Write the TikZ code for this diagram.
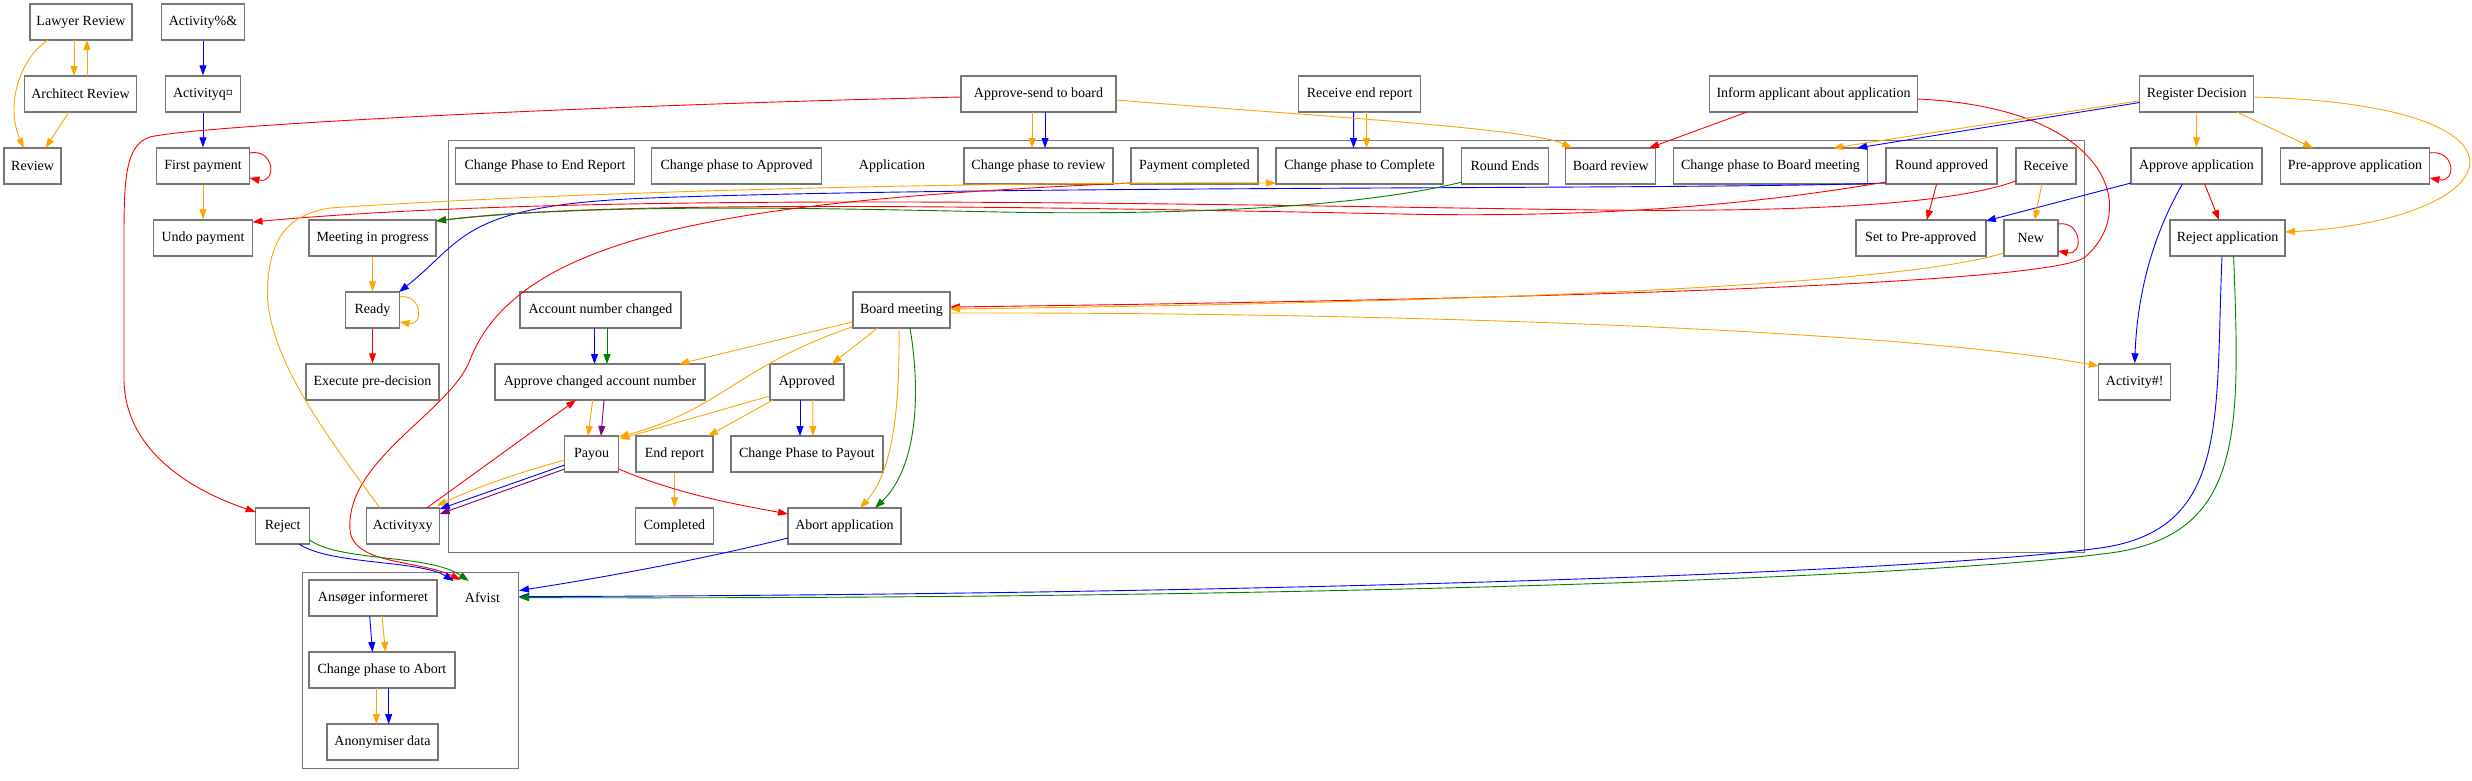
\documentclass[tikz,border=0pt]{standalone}
\usepackage{fontspec}
\setmainfont{Liberation Serif}
\usetikzlibrary{arrows.meta}
\definecolor{gvorange}{RGB}{255,165,0}
\definecolor{gvblue}{RGB}{0,0,255}
\definecolor{gvgreen}{RGB}{0,128,0}
\definecolor{gvred}{RGB}{255,0,0}
\definecolor{gvpurple}{RGB}{128,0,128}
\definecolor{bgray}{RGB}{118,118,118}
\begin{document}
\begin{tikzpicture}[x=1pt,y=-1pt,
  box/.style={draw=bgray, line width=1.4pt, minimum height=36pt, inner xsep=6pt, inner ysep=0pt, font=\fontsize{14}{16}\selectfont},
  clus/.style={draw=bgray, line width=1.4pt, inner sep=0pt},
  lbl/.style={font=\fontsize{14}{16}\selectfont, inner sep=0pt},
  edge/.style={line width=0.9pt, -{Triangle[length=10pt,width=7pt]}},
  orE/.style={edge, draw=gvorange},
  blE/.style={edge, draw=gvblue},
  grE/.style={edge, draw=gvgreen},
  rdE/.style={edge, draw=gvred},
  puE/.style={edge, draw=gvpurple}]
\useasboundingbox (0,0) rectangle (2472,780);
% clusters
\node[clus, minimum width=1635.8, minimum height=412, anchor=north west] (capp) at (447.7,140) {};
\node[clus, minimum width=215.9, minimum height=195.7, anchor=north west] (cafv) at (301.7,572) {};
% nodes outside
\node[box, minimum width=102] (lr) at (81,22) {Lawyer Review};
\node[box, minimum width=112] (ar) at (80.5,94) {Architect Review};
\node[box, minimum width=57] (rv) at (32.6,166) {Review};
\node[box, minimum width=83] (a1) at (203,22) {Activity\%\&};
\node[box, minimum width=75] (a2) at (203,94) {Activityq¤};
\node[box, minimum width=93] (fp) at (203,166) {First payment};
\node[box, minimum width=99] (up) at (203,238) {Undo payment};
\node[box, minimum width=127] (mip) at (372.5,238) {Meeting in progress};
\node[box, minimum width=54] (rdy) at (372.5,310) {Ready};
\node[box, minimum width=133] (epd) at (372.5,382) {Execute pre-decision};
\node[box, minimum width=54] (rej) at (282.7,526) {Reject};
\node[box, minimum width=73] (axy) at (402.7,526) {Activityxy};
\node[box, minimum width=155] (asb) at (1038.5,94) {Approve-send to board};
\node[box, minimum width=122] (rer) at (1359.6,94) {Receive end report};
\node[box, minimum width=208] (ia) at (1813.5,94) {Inform applicant about application};
\node[box, minimum width=114] (rd) at (2196.7,94) {Register Decision};
\node[box, minimum width=131] (apa) at (2196.4,166) {Approve application};
\node[box, minimum width=149] (ppa) at (2355,166) {Pre-approve application};
\node[box, minimum width=115] (rja) at (2227.6,238) {Reject application};
\node[box, minimum width=72] (act) at (2134.7,382) {Activity\#!};
% Application cluster
\node[box, minimum width=179] (cper) at (545,166) {Change Phase to End Report};
\node[box, minimum width=170] (cpa) at (736.6,166) {Change phase to Approved};
\node[lbl] (appl) at (892,166) {Application};
\node[box, minimum width=149] (cpr) at (1038.5,166) {Change phase to review};
\node[box, minimum width=127] (pc) at (1194.5,166) {Payment completed};
\node[box, minimum width=167] (cpc) at (1359.5,166) {Change phase to Complete};
\node[box, minimum width=87] (re) at (1505,166) {Round Ends};
\node[box, minimum width=90] (br) at (1610.7,166) {Board review};
\node[box, minimum width=194] (cpbm) at (1770.5,166) {Change phase to Board meeting};
\node[box, minimum width=111] (ra) at (1941.6,166) {Round approved};
\node[box, minimum width=60] (rcv) at (2045.8,166) {Receive};
\node[box, minimum width=130] (spa) at (1920.8,238) {Set to Pre-approved};
\node[box, minimum width=54] (new) at (2030.8,238) {New};
\node[box, minimum width=161] (anc) at (600.5,310) {Account number changed};
\node[box, minimum width=97] (bm) at (901.5,310) {Board meeting};
\node[box, minimum width=210] (aca) at (600,382) {Approve changed account number};
\node[box, minimum width=74] (apd) at (806.8,382) {Approved};
\node[box, minimum width=54] (pay) at (591.7,454) {Payou};
\node[box, minimum width=77] (er) at (674.5,454) {End report};
\node[box, minimum width=152] (cpp) at (807,454) {Change Phase to Payout};
\node[box, minimum width=78] (cmp) at (674.5,526) {Completed};
\node[box, minimum width=113] (aa) at (844.5,526) {Abort application};
% Afvist cluster
\node[box, minimum width=128] (ai) at (373,598) {Ansøger informeret};
\node[lbl] (afv) at (482.4,598) {Afvist};
\node[box, minimum width=146] (cpab) at (382,670) {Change phase to Abort};
\node[box, minimum width=111] (ad) at (382.5,742) {Anonymiser data};
% ---- edges: top-left
\draw[orE] ([shift={(-7,18)}]lr.center) -- ([shift={(-6.5,-18)}]ar.center);
\draw[orE] ([shift={(6.5,-18)}]ar.center) -- ([shift={(6,18)}]lr.center);
\draw[orE] ([shift={(-33,18)}]lr.center) .. controls (20,58) and (5,105) .. ([shift={(-8.9,-18)}]rv.center);
\draw[orE] ([shift={(-11.5,18)}]ar.center) -- ([shift={(12.9,-18)}]rv.center);
\draw[blE] (a1.south) -- (a2.north);
\draw[blE] (a2.south) -- (fp.north);
\draw[rdE] ([shift={(46.5,-13)}]fp.center) .. controls (275,148) and (277,184) .. ([shift={(46.5,12)}]fp.center);
\draw[orE] (fp.south) -- (up.north);
\draw[orE] (mip.south) -- (rdy.north);
\draw[orE] ([shift={(27,-13)}]rdy.center) .. controls (422,293) and (424,326) .. ([shift={(27,12)}]rdy.center);
\draw[rdE] (rdy.south) -- (epd.north);
% ---- top row
\draw[orE] ([shift={(-6.5,18)}]asb.center) -- ([shift={(-6.5,-18)}]cpr.center);
\draw[blE] ([shift={(6.5,18)}]asb.center) -- ([shift={(6.5,-18)}]cpr.center);
\draw[blE] ([shift={(-6,18)}]rer.center) -- ([shift={(-6,-18)}]cpc.center);
\draw[orE] ([shift={(7,18)}]rer.center) -- ([shift={(7,-18)}]cpc.center);
\draw[orE] ([shift={(77.5,6)}]asb.center) .. controls (1300,115) and (1530,128) .. ([shift={(-38.7,-18)}]br.center);
\draw[rdE] ([shift={(-66.5,18)}]ia.center) -- ([shift={(38.3,-18)}]br.center);
\draw[rdE] ([shift={(-77.5,3)}]asb.center) .. controls (600,105) and (200,125) .. (150,137)
   .. controls (125,145) and (124,180) .. (124,240) -- (124,380)
   .. controls (125,450) and (190,490) .. ([shift={(-27,-14)}]rej.center);
% ---- right part
\draw[rdE] ([shift={(104,5)}]ia.center) .. controls (2110,108) and (2140,210) .. (2085,257)
   .. controls (2052,285) and (1500,300) .. ([shift={(48.5,-3)}]bm.center);
\draw[orE] ([shift={(-27,15)}]new.center) .. controls (1900,285) and (1500,302) .. ([shift={(48.5,-1)}]bm.center);
\draw[orE] ([shift={(48.5,3)}]bm.center) .. controls (1400,312) and (1900,330) .. ([shift={(-36,-16)}]act.center);
\draw[orE] ([shift={(-57,6.7)}]rd.center) -- ([shift={(62.5,-18)}]cpbm.center);
\draw[blE] ([shift={(-57,8.5)}]rd.center) -- ([shift={(86.5,-18)}]cpbm.center);
\draw[orE] (rd.south) -- (apa.north);
\draw[orE] ([shift={(40,18)}]rd.center) -- ([shift={(-42,-18)}]ppa.center);
\draw[orE] ([shift={(57,3)}]rd.center) .. controls (2560,105) and (2510,220) .. ([shift={(57.5,-6)}]rja.center);
\draw[rdE] ([shift={(74.5,-13)}]ppa.center) .. controls (2455,149) and (2457,183) .. ([shift={(74.5,12)}]ppa.center);
\draw[blE] ([shift={(-65.4,17)}]apa.center) -- ([shift={(65,-17)}]spa.center);
\draw[rdE] ([shift={(8.2,18)}]apa.center) -- ([shift={(-8.6,-18)}]rja.center);
\draw[blE] ([shift={(-14,18)}]apa.center) .. controls (2150,240) and (2137,300) .. (act.north);
\draw[blE] ([shift={(-5.6,18)}]rja.center) .. controls (2215,420) and (2230,530) .. (2100,548)
   .. controls (1900,575) and (1200,595) .. ([shift={(0,-74)}]cafv.east);
\draw[grE] ([shift={(6,18)}]rja.center) .. controls (2240,430) and (2245,535) .. (2110,553)
   .. controls (1900,581) and (1200,600) .. ([shift={(0,-73)}]cafv.east);
\draw[blE] ([shift={(-56.5,12)}]aa.center) .. controls (700,560) and (600,578) .. ([shift={(0,-80)}]cafv.east);
\draw[rdE] ([shift={(-5,18)}]ra.center) -- ([shift={(6,-18)}]spa.center);
\draw[orE] ([shift={(-4,18)}]rcv.center) -- ([shift={(4,-18)}]new.center);
\draw[rdE] ([shift={(27,-14)}]new.center) .. controls (2082,220) and (2084,256) .. ([shift={(27,13)}]new.center);
% ---- long edges to the left
\draw[blE] ([shift={(-55.6,17)}]ra.center) .. controls (1700,190) and (1000,185) .. (650,198)
   .. controls (460,205) and (465,240) .. ([shift={(26.5,-18)}]rdy.center);
\draw[rdE] ([shift={(-30,15)}]rcv.center) .. controls (1950,205) and (1800,212) .. (1600,210)
   .. controls (1200,205) and (600,190) .. ([shift={(49.5,-16)}]up.center);
\draw[rdE] ([shift={(-55.6,16)}]ra.center) .. controls (1750,205) and (1600,218) .. (1400,214)
   .. controls (1000,206) and (600,200) .. ([shift={(63.5,-17)}]mip.center);
\draw[grE] ([shift={(-43,16)}]re.center) .. controls (1350,210) and (1150,215) .. (1000,212)
   .. controls (850,209) and (600,202) .. ([shift={(63.5,-17)}]mip.center);
\draw[rdE] ([shift={(-63.5,17)}]pc.center) .. controls (750,200) and (520,230) .. (470,360)
   .. controls (450,412) and (345,460) .. (350,530)
   .. controls (353,565) and (420,560) .. ([shift={(50.35,8)}]cafv.north);
\draw[blE] ([shift={(16.3,18)}]rej.center) .. controls (330,565) and (420,560) .. ([shift={(43.35,9)}]cafv.north);
\draw[grE] ([shift={(27,14)}]rej.center) .. controls (340,562) and (430,554) .. ([shift={(58.35,9)}]cafv.north);
\draw[orE] ([shift={(-22.7,-18)}]axy.center) .. controls (330,440) and (260,350) .. (268,280)
   .. controls (272,230) and (295,214) .. (330,208)
   .. controls (600,190) and (1000,182) .. ([shift={(-83.5,17)}]cpc.center);
% ---- inside Application, lower part
\draw[rdE] ([shift={(24,-18)}]axy.center) -- ([shift={(-24,18)}]aca.center);
\draw[orE] ([shift={(-27,6)}]pay.center) .. controls (510,475) and (470,490) .. ([shift={(34,-20)}]axy.center);
\draw[blE] ([shift={(-27,11)}]pay.center) -- ([shift={(37,-17)}]axy.center);
\draw[puE] ([shift={(-27,15)}]pay.center) -- ([shift={(37,-12)}]axy.center);
\draw[orE] ([shift={(-7.3,18)}]aca.center) -- ([shift={(-3.7,-18)}]pay.center);
\draw[puE] ([shift={(4,18)}]aca.center) -- ([shift={(9.3,-18)}]pay.center);
\draw[blE] ([shift={(-6,18)}]anc.center) -- ([shift={(-5.5,-18)}]aca.center);
\draw[grE] ([shift={(6.5,18)}]anc.center) -- ([shift={(7,-18)}]aca.center);
\draw[orE] ([shift={(-49.5,12)}]bm.center) -- ([shift={(79,-18)}]aca.center);
\draw[orE] ([shift={(-49.5,17)}]bm.center) .. controls (740,365) and (720,410) .. ([shift={(27,-17)}]pay.center);
\draw[orE] ([shift={(-37,14)}]apd.center) -- ([shift={(28,-15)}]pay.center);
\draw[orE] ([shift={(-24,18)}]bm.center) -- ([shift={(25,-18)}]apd.center);
\draw[orE] ([shift={(-34,18)}]apd.center) -- ([shift={(33.5,-18)}]er.center);
\draw[blE] ([shift={(-6.8,18)}]apd.center) -- ([shift={(-7,-18)}]cpp.center);
\draw[orE] ([shift={(6,18)}]apd.center) -- ([shift={(6,-18)}]cpp.center);
\draw[orE] (er.south) -- (cmp.north);
\draw[rdE] ([shift={(27,15)}]pay.center) .. controls (680,495) and (740,505) .. ([shift={(-56.5,-12)}]aa.center);
\draw[orE] ([shift={(-2.5,18)}]bm.center) .. controls (900,420) and (890,475) .. ([shift={(15.5,-18)}]aa.center);
\draw[grE] ([shift={(8.5,18)}]bm.center) .. controls (922,400) and (915,470) .. ([shift={(30.5,-18)}]aa.center);
% ---- inside Afvist
\draw[blE] ([shift={(-3.3,18)}]ai.center) -- ([shift={(-9.5,-18)}]cpab.center);
\draw[orE] ([shift={(9,18)}]ai.center) -- ([shift={(3.5,-18)}]cpab.center);
\draw[orE] ([shift={(-5.6,18)}]cpab.center) -- ([shift={(-6.1,-18)}]ad.center);
\draw[blE] ([shift={(6.7,18)}]cpab.center) -- ([shift={(6.2,-18)}]ad.center);
\end{tikzpicture}
\end{document}
